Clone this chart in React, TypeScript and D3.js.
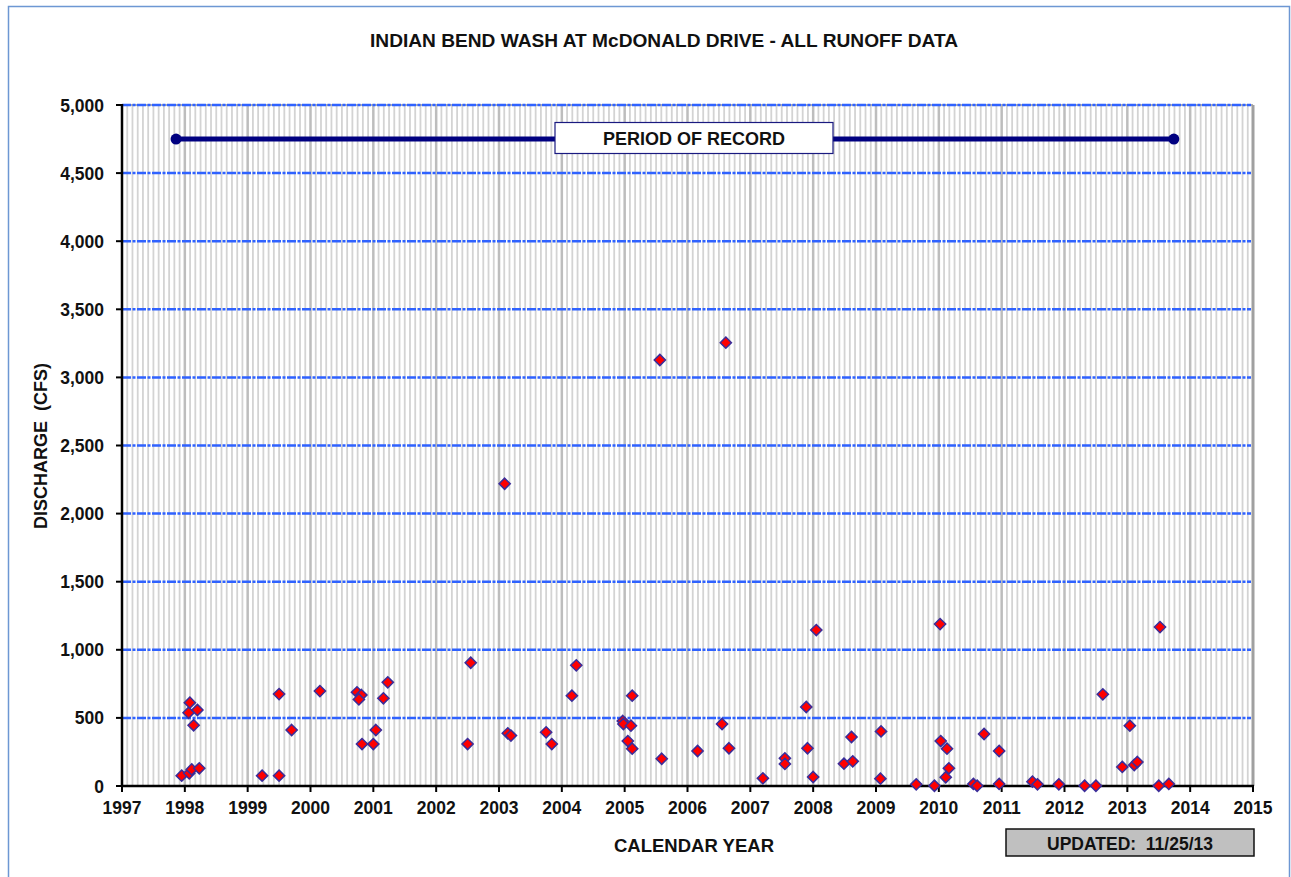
import React from "react";
import * as d3 from "d3";

const yearTicks = [1997, 1998, 1999, 2000, 2001, 2002, 2003, 2004, 2005, 2006, 2007, 2008, 2009, 2010, 2011, 2012, 2013, 2014, 2015];
const valueTicks = [0, 500, 1000, 1500, 2000, 2500, 3000, 3500, 4000, 4500, 5000];

// decimal year of each runoff event
const eventDates = [
  1997.95, 1998.07, 1998.11, 1998.23, 1998.06, 1998.08, 1998.2, 1998.14,
  1999.23, 1999.5, 1999.5, 1999.7, 2000.15, 2000.74, 2000.81, 2000.77, 2000.82,
  2001.0, 2001.04, 2001.16, 2001.23,
  2002.55, 2002.5, 2003.09, 2003.14, 2003.19, 2003.75, 2003.84, 2004.16, 2004.23,
  2004.97, 2004.98, 2005.1, 2005.12, 2005.05, 2005.12, 2005.59, 2005.56,
  2006.16, 2006.55, 2006.66, 2006.61, 2007.2, 2007.55, 2007.55, 2007.89, 2007.91,
  2008.0, 2008.05, 2008.49, 2008.63, 2008.61, 2009.08, 2009.07, 2009.64, 2009.93,
  2010.02, 2010.03, 2010.13, 2010.16, 2010.11, 2010.55, 2010.61, 2010.72, 2010.96,
  2010.96, 2011.49, 2011.57, 2011.91, 2012.32, 2012.5, 2012.61, 2012.92, 2013.04,
  2013.11, 2013.16, 2013.52, 2013.5, 2013.66,
];
// discharge in cfs
const dischargeCfs = [
  76, 93, 122, 130, 538, 612, 558, 446,
  76, 76, 675, 411, 697, 688, 668, 636, 308,
  308, 411, 644, 761,
  905, 308, 2219, 387, 370, 394, 308, 663, 886,
  477, 455, 443, 663, 330, 274, 200, 3128,
  257, 455, 277, 3255, 56, 203, 162, 580, 277,
  66, 1145, 164, 181, 360, 401, 54, 12, 2,
  1189, 330, 274, 130, 64, 15, 2, 382, 257,
  15, 32, 12, 12, 2, 2, 673, 140, 443,
  154, 176, 1167, 2, 15,
];

const recordStart = 1997.86;
const recordEnd = 2013.74;
const recordLevel = 4750;

const W = 1291;
const H = 877;
const left = 122;
const right = 1253;
const top = 105;
const bottom = 786;

const FONT = "'Liberation Sans', Arial, sans-serif";

export default function App() {
  const x = d3.scaleLinear().domain([1997, 2015]).range([left, right]);
  const y = d3.scaleLinear().domain([0, 5000]).range([bottom, top]);

  const months: number[] = [];
  for (let yr = 1997; yr < 2015; yr++) {
    for (let m = 1; m < 12; m++) months.push(yr + m / 12);
  }

  const diamond = d3.symbol().type(d3.symbolDiamond2).size(80)();

  const points = eventDates.map((d, i) => ({ d, v: dischargeCfs[i] }));

  return (
    <svg width={W} height={H} style={{ display: "block", position: "absolute", left: 0, top: 0 }}>
      <rect x={0} y={0} width={W} height={H} fill="#fff" />
      <rect x={8.5} y={6.5} width={1281} height={880} fill="#fff" stroke="#6d97d3" strokeWidth={1.5} />

      <text x={664} y={47} textAnchor="middle" fontFamily={FONT} fontWeight="bold" fontSize={18} fill="#111" textLength={588} lengthAdjust="spacingAndGlyphs">
        INDIAN BEND WASH AT McDONALD DRIVE - ALL RUNOFF DATA
      </text>

      {/* minor monthly gridlines */}
      {months.map((m, i) => (
        <line key={"m" + i} x1={x(m)} x2={x(m)} y1={top} y2={bottom} stroke="#d3d3d3" strokeWidth={1.8} />
      ))}
      {yearTicks.slice(1, -1).map((yr) => (
        <line key={"y" + yr} x1={x(yr)} x2={x(yr)} y1={top} y2={bottom} stroke="#bdbdbd" strokeWidth={2.5} />
      ))}
      {/* plot border top / right */}
      <line x1={left} x2={right} y1={top} y2={top} stroke="#b0b0b0" strokeWidth={2} />
      <line x1={right} x2={right} y1={top} y2={bottom} stroke="#a0a0a0" strokeWidth={3} />

      {/* horizontal gridlines */}
      {valueTicks.slice(1).map((v) => (
        <line key={"h" + v} x1={left} x2={right - 2} y1={y(v)} y2={y(v)} stroke="#2f62ff" strokeWidth={2.5} strokeDasharray="9,1.5,3,1.5" />
      ))}

      {/* axes */}
      <line x1={left} x2={left} y1={top - 1} y2={bottom + 1} stroke="#000" strokeWidth={2.5} />
      <line x1={left - 1} x2={right + 1} y1={bottom} y2={bottom} stroke="#000" strokeWidth={2.5} />
      {valueTicks.map((v) => (
        <g key={"yt" + v}>
          <line x1={left - 6} x2={left} y1={y(v)} y2={y(v)} stroke="#000" strokeWidth={2} />
          <text x={104} y={y(v) + 6.5} textAnchor="end" fontFamily={FONT} fontWeight="bold" fontSize={17.5} fill="#111">
            {d3.format(",")(v)}
          </text>
        </g>
      ))}
      {yearTicks.map((yr) => (
        <g key={"xt" + yr}>
          <line x1={x(yr)} x2={x(yr)} y1={bottom} y2={bottom + 6} stroke="#000" strokeWidth={2} />
          <text x={x(yr)} y={814} textAnchor="middle" fontFamily={FONT} fontWeight="bold" fontSize={17.5} fill="#111">
            {yr}
          </text>
        </g>
      ))}

      <text transform={`translate(47,446) rotate(-90)`} textAnchor="middle" fontFamily={FONT} fontWeight="bold" fontSize={18} fill="#111" style={{ whiteSpace: "pre" }}>
        {"DISCHARGE  (CFS)"}
      </text>
      <text x={694} y={852} textAnchor="middle" fontFamily={FONT} fontWeight="bold" fontSize={18.5} fill="#111">
        CALENDAR YEAR
      </text>

      {/* period of record */}
      <line x1={x(recordStart)} x2={x(recordEnd)} y1={y(recordLevel)} y2={y(recordLevel)} stroke="#000080" strokeWidth={5} />
      <circle cx={x(recordStart)} cy={y(recordLevel)} r={5.5} fill="#000080" />
      <circle cx={x(recordEnd)} cy={y(recordLevel)} r={5.5} fill="#000080" />
      <rect x={555} y={122.5} width={278} height={31} fill="#fff" stroke="#1a1a80" strokeWidth={1.2} />
      <text x={694} y={144.5} textAnchor="middle" fontFamily={FONT} fontWeight="bold" fontSize={18} fill="#111">
        PERIOD OF RECORD
      </text>

      {/* data */}
      {points.map((p, i) => (
        <path key={"p" + i} d={diamond as string} transform={`translate(${x(p.d)},${y(p.v)})`} fill="#ff0000" stroke="#3a2d9a" strokeWidth={1.5} />
      ))}

      {/* updated box */}
      <rect x={1006} y={829} width={248} height={27} fill="#c0c0c0" stroke="#111" strokeWidth={1.5} />
      <text x={1130} y={849.5} textAnchor="middle" fontFamily={FONT} fontWeight="bold" fontSize={17.5} fill="#111" style={{ whiteSpace: "pre" }}>
        {"UPDATED:  11/25/13"}
      </text>
    </svg>
  );
}
